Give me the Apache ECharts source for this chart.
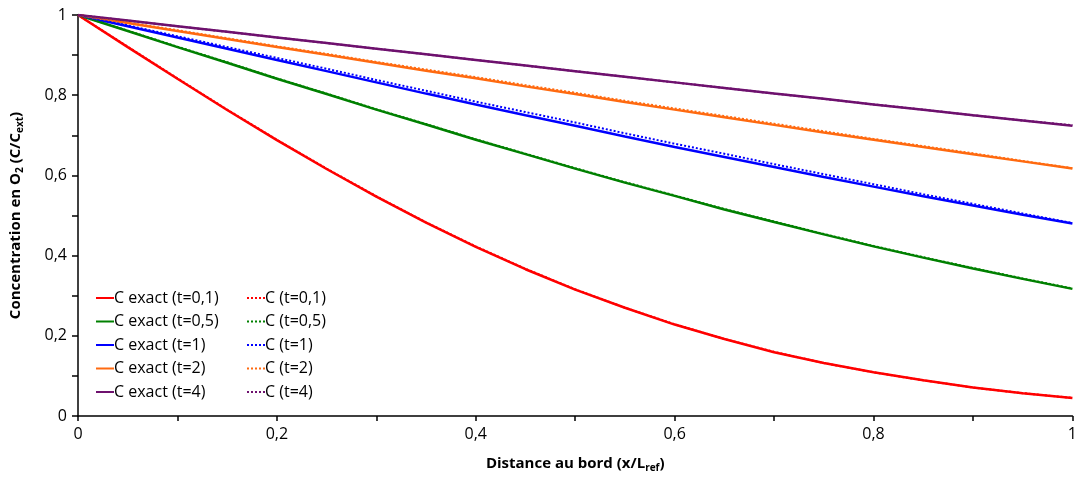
<!DOCTYPE html>
<html>
<head>
<meta charset="utf-8">
<script src="https://cdn.jsdelivr.net/npm/echarts@6/dist/echarts.min.js"></script>
<style>
html,body{margin:0;padding:0;background:#fff;}
#c{width:1080px;height:479px;}
</style>
</head>
<body>
<div id="c"></div>
<script>
var xs = [0,0.05,0.1,0.15,0.2,0.25,0.3,0.35,0.4,0.45,0.5,0.55,0.6,0.65,0.7,0.75,0.8,0.85,0.9,0.95,1];

var exact01 = [1,0.920,0.841,0.763,0.688,0.616,0.547,0.482,0.422,0.366,0.315,0.270,0.228,0.192,0.159,0.132,0.109,0.089,0.071,0.057,0.045];
var exact05 = [1,0.960,0.920,0.881,0.841,0.803,0.764,0.727,0.689,0.653,0.617,0.582,0.549,0.515,0.484,0.453,0.423,0.395,0.368,0.342,0.317];
var exact1  = [1,0.972,0.944,0.916,0.888,0.860,0.832,0.804,0.777,0.750,0.724,0.697,0.671,0.646,0.621,0.596,0.572,0.548,0.525,0.502,0.480];
var exact2  = [1,0.980,0.960,0.940,0.920,0.901,0.881,0.861,0.842,0.822,0.803,0.783,0.764,0.745,0.726,0.707,0.689,0.671,0.653,0.635,0.617];
var exact4  = [1,0.986,0.972,0.958,0.944,0.930,0.916,0.902,0.888,0.874,0.860,0.846,0.832,0.818,0.804,0.791,0.777,0.764,0.750,0.737,0.724];

var num01 = [1,0.921,0.842,0.764,0.689,0.617,0.548,0.483,0.423,0.367,0.316,0.270,0.229,0.192,0.160,0.132,0.109,0.089,0.071,0.057,0.045];
var num05 = [1,0.961,0.921,0.882,0.842,0.804,0.765,0.728,0.690,0.654,0.618,0.583,0.550,0.516,0.485,0.454,0.424,0.396,0.369,0.343,0.318];
var num1  = [1,0.974,0.947,0.920,0.893,0.866,0.838,0.811,0.784,0.758,0.732,0.705,0.679,0.654,0.628,0.603,0.578,0.553,0.529,0.505,0.481];
var num2  = [1,0.981,0.962,0.942,0.922,0.903,0.883,0.864,0.845,0.825,0.806,0.786,0.767,0.748,0.729,0.710,0.691,0.673,0.655,0.636,0.618];
var num4  = [1,0.986,0.972,0.958,0.944,0.930,0.916,0.902,0.888,0.874,0.860,0.846,0.832,0.818,0.804,0.791,0.777,0.764,0.750,0.737,0.725];

var exactNames = ['C exact (t=0,1)','C exact (t=0,5)','C exact (t=1)','C exact (t=2)','C exact (t=4)'];
var numNames = ['C (t=0,1)','C (t=0,5)','C (t=1)','C (t=2)','C (t=4)'];
var colors = ['#FF0000','#008000','#0000FF','#FF6A10','#6E116E'];

function pairs(ys){ return xs.map(function(x,i){ return [x, ys[i]]; }); }
var exactData = [exact01, exact05, exact1, exact2, exact4];
var numData = [num01, num05, num1, num2, num4];

var FONT = 'Open Sans';
var series = [];
exactData.forEach(function(d,i){
  series.push({name: exactNames[i], type:'line', data: pairs(d), symbol:'none', smooth:false,
    lineStyle:{color:colors[i], width:2.5, type:'solid'}, itemStyle:{color:colors[i]}, z:2});
});
numData.forEach(function(d,i){
  series.push({name: numNames[i], type:'line', data: pairs(d), symbol:'none', smooth:false,
    lineStyle:{color:colors[i], width:2, type:[2,2]}, itemStyle:{color:colors[i]}, z:3});
});

function fmt(v){
  var k = Math.round(v*10);
  if (k % 2 !== 0) return '';
  if (k === 0) return '0';
  if (k === 10) return '1';
  return '0,' + k;
}

var legendCommon = {orient:'vertical', top:283, itemWidth:18, itemHeight:10, itemGap:3.5,
  itemStyle:{opacity:0},
  textStyle:{fontFamily:FONT, fontSize:16, color:'#000', padding:[0,0,0,-5], lineHeight:20}};

var chart = echarts.init(document.getElementById('c'), null, {renderer:'canvas'});
chart.setOption({
  animation:false,
  backgroundColor:'#fff',
  textStyle:{fontFamily:FONT},
  grid:{left:78, right:6, top:15, bottom:63},
  legend:[
    Object.assign({data: exactNames, left:90}, legendCommon),
    Object.assign({data: numNames, left:241}, legendCommon)
  ],
  xAxis:{type:'value', min:0, max:1, interval:0.1,
    name:'{b|Distance au bord (x/L}{s|ref}{b|)}', nameLocation:'middle', nameGap:38,
    nameTextStyle:{rich:{b:{fontFamily:FONT, fontSize:15, fontWeight:'bold', color:'#000'},
      s:{fontFamily:FONT, fontSize:10, fontWeight:'bold', color:'#000', padding:[9,0,0,0]}}},
    axisLine:{lineStyle:{color:'#000', width:1.5}},
    axisTick:{show:true, length:5, inside:false, lineStyle:{color:'#000', width:1.5}},
    axisLabel:{formatter:fmt, fontFamily:FONT, fontSize:16, color:'#000', margin:10, showMinLabel:true, showMaxLabel:true},
    splitLine:{show:false}
  },
  yAxis:{type:'value', min:0, max:1, interval:0.1,
    name:'{b|Concentration en O}{s|2}{b| (C/C}{s|ext}{b|)}', nameLocation:'middle', nameGap:53, nameRotate:90,
    nameTextStyle:{rich:{b:{fontFamily:FONT, fontSize:15, fontWeight:'bold', color:'#000'},
      s:{fontFamily:FONT, fontSize:10, fontWeight:'bold', color:'#000', padding:[9,0,0,0]}}},
    axisLine:{show:true, lineStyle:{color:'#000', width:1.5}},
    axisTick:{show:true, length:6, inside:false, lineStyle:{color:'#000', width:1.5}},
    axisLabel:{formatter:fmt, fontFamily:FONT, fontSize:16, color:'#000', margin:11},
    splitLine:{show:false}
  },
  series: series
});
</script>
</body>
</html>
